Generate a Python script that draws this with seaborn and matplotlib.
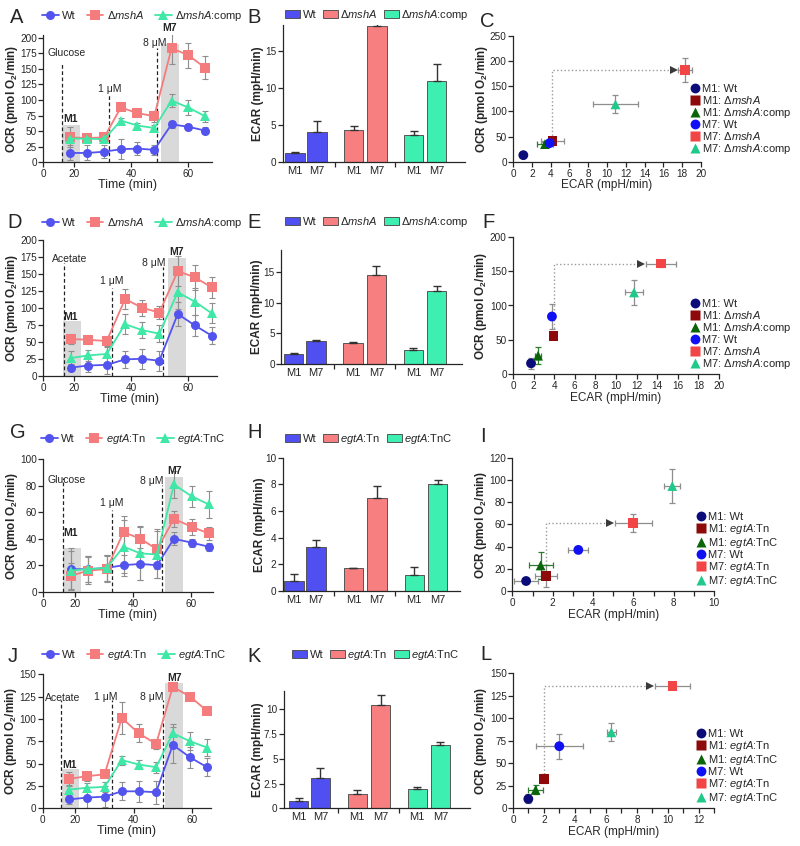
import numpy as np
import pandas as pd
import matplotlib
matplotlib.use('Agg')
import matplotlib.pyplot as plt
from matplotlib.transforms import blended_transform_factory
import seaborn as sns

sns.set_style('ticks')
plt.rcParams['font.family'] = ['Liberation Sans', 'DejaVu Sans']
plt.rcParams['mathtext.fontset'] = 'custom'
plt.rcParams['mathtext.rm'] = 'Liberation Sans'
plt.rcParams['mathtext.it'] = 'Liberation Sans:italic'
plt.rcParams['mathtext.bf'] = 'Liberation Sans:bold'
plt.rcParams['axes.linewidth'] = 0.9
plt.rcParams['xtick.major.width'] = 0.9
plt.rcParams['ytick.major.width'] = 0.9
plt.rcParams['xtick.minor.width'] = 0.9
plt.rcParams['xtick.major.size'] = 3.5
plt.rcParams['ytick.major.size'] = 3.5
plt.rcParams['xtick.minor.size'] = 3.5
plt.rcParams['xtick.major.pad'] = 1.5
plt.rcParams['ytick.major.pad'] = 1

# ---------------- labels ----------------
msh_labels = ['Wt', 'Δ$\\mathit{mshA}$', 'Δ$\\mathit{mshA}$:comp']
egt_labels = ['Wt', '$\\mathit{egtA}$:Tn', '$\\mathit{egtA}$:TnC']
msh_sc_labels = ['M1: Wt', 'M1: Δ$\\mathit{mshA}$', 'M1: Δ$\\mathit{mshA}$:comp',
                 'M7: Wt', 'M7: Δ$\\mathit{mshA}$', 'M7: Δ$\\mathit{mshA}$:comp']
egt_sc_labels = ['M1: Wt', 'M1: $\\mathit{egtA}$:Tn', 'M1: $\\mathit{egtA}$:TnC',
                 'M7: Wt', 'M7: $\\mathit{egtA}$:Tn', 'M7: $\\mathit{egtA}$:TnC']
bar_ticks = ['M1', 'M7', 'M1', 'M7', 'M1', 'M7']

# ---------------- panel A (glucose, mshA) ----------------
time_A = [17.2, 24.6, 30.5, 36.4, 42.2, 48.2, 54.3, 60.2, 66.1]
ocr_A_wt = [15, 15, 17, 21, 22, 20, 61, 57, 51]
err_A_wt = [12, 12, 10, 16, 10, 8, 6, 5, 5]
ocr_A_mut = [40, 39, 40, 88, 79, 74, 183, 172, 152]
err_A_mut = [16, 4, 4, 4, 7, 9, 25, 20, 18]
ocr_A_comp = [38, 38, 37, 67, 59, 55, 99, 88, 74]
err_A_comp = [5, 5, 5, 4, 4, 5, 11, 12, 9]

# ---------------- panel B ----------------
ecar_B = [1.2, 4.0, 4.3, 18.3, 3.6, 10.9]
ecar_B_err = [0.1, 1.5, 0.5, 0.6, 0.5, 2.3]

# ---------------- panel C ----------------
ecar_C = [1.1, 4.2, 3.4, 3.9, 18.3, 10.9]
ocr_C = [13, 41, 35, 37, 183, 114]
ecar_C_err = [0.1, 1.2, 0.9, 0.3, 0.7, 2.4]
ocr_C_err = [3, 5, 5, 5, 24, 18]

# ---------------- panel D (acetate, mshA) ----------------
time_D = [17.8, 24.9, 31.4, 37.9, 44.0, 50.0, 56.5, 62.6, 68.5]
ocr_D_wt = [12, 15, 16, 24, 25, 22, 91, 74, 59]
err_D_wt = [5, 10, 13, 12, 15, 15, 18, 15, 13]
ocr_D_mut = [54, 53, 51, 113, 100, 93, 154, 145, 130]
err_D_mut = [8, 7, 8, 15, 12, 10, 22, 18, 15]
ocr_D_comp = [26, 30, 32, 76, 67, 62, 123, 109, 92]
err_D_comp = [10, 8, 12, 15, 12, 12, 25, 20, 15]

# ---------------- panel E ----------------
ecar_E = [1.7, 3.8, 3.4, 14.5, 2.3, 11.8]
ecar_E_err = [0.05, 0.15, 0.15, 1.4, 0.3, 0.8]

# ---------------- panel F ----------------
ecar_F = [1.75, 3.94, 2.43, 3.78, 14.4, 11.75]
ocr_F = [16, 56, 27, 84, 161, 119]
ecar_F_err = [0.3, 0.2, 0.3, 0.15, 1.45, 0.9]
ocr_F_err = [8, 5, 12, 18, 5, 18]

# ---------------- panel G (glucose, egtA) ----------------
time_G = [17.4, 24.5, 30.9, 36.7, 42.5, 48.3, 54.1, 60.3, 66.1]
ocr_G_wt = [17, 17, 18, 20, 21, 20, 40, 37, 34]
err_G_wt = [16, 10, 10, 8, 12, 10, 5, 3, 3]
ocr_G_tn = [12, 16, 17, 45, 40, 32, 55, 49, 44]
err_G_tn = [10, 10, 10, 12, 10, 15, 6, 6, 5]
ocr_G_tnc = [16, 17, 18, 34, 29, 28, 81, 72, 66]
err_G_tnc = [15, 10, 10, 20, 20, 18, 10, 8, 10]

# ---------------- panel H ----------------
ecar_H = [0.75, 3.3, 1.7, 7.0, 1.2, 8.0]
ecar_H_err = [0.55, 0.5, 0.05, 0.9, 0.6, 0.35]

# ---------------- panel I ----------------
ecar_I = [0.68, 1.67, 1.4, 3.27, 6.0, 7.93]
ocr_I = [9, 13.5, 23, 37, 61.5, 94.5]
ecar_I_err = [0.6, 0.55, 0.6, 0.5, 0.9, 0.4]
ocr_I_err = [2, 10, 12, 3, 8, 15]

# ---------------- panel J (acetate, egtA) ----------------
time_J = [16.6, 24.2, 30.1, 36.0, 41.8, 47.7, 53.4, 59.3, 65.1]
ocr_J_wt = [10, 12, 13, 19, 19, 18, 71, 57, 46]
err_J_wt = [5, 12, 12, 10, 12, 13, 20, 12, 10]
ocr_J_tn = [33, 36, 38, 101, 84, 72, 136, 125, 109]
err_J_tn = [8, 5, 3, 18, 10, 6, 5, 3, 3]
ocr_J_tnc = [21, 23, 24, 54, 49, 46, 84, 75, 68]
err_J_tnc = [5, 5, 6, 5, 5, 6, 10, 10, 10]

# ---------------- panel K ----------------
ecar_K = [0.75, 3.1, 1.45, 10.4, 2.0, 6.35]
ecar_K_err = [0.25, 1.0, 0.35, 1.0, 0.2, 0.3]

# ---------------- panel L ----------------
ecar_L = [0.99, 2.0, 1.46, 2.99, 10.3, 6.35]
ocr_L = [10.4, 33, 20.4, 69, 136, 84.4]
ecar_L_err = [0.2, 0.2, 0.5, 1.5, 1.1, 0.3]
ocr_L_err = [5, 5, 5, 14, 3, 10]

bar_pos = [0, 1, 2.67, 3.73, 5.4, 6.45]
bar_sep = [1.8, 4.55]

# ---------------- styles ----------------
LINE_COLORS = ['#5353EE', '#F47C7C', '#3FE8A6']
LINE_MARKERS = ['o', 's', '^']
BAR_COLORS = ['#4F4FF2', '#F77F7F', '#3DF0B2']
SC_COLORS = ['#0B0B7A', '#8E0A0A', '#0A640A', '#1010F5', '#F24545', '#1FC98A']
SC_MARKERS = ['o', 's', '^', 'o', 's', '^']
ERR_GRAY = '#8E8E8E'
BOX_GRAY = '#D9D9D9'
TICK_FS = 7.2

W, H = 800, 846
fig = plt.figure(figsize=(W / 100, H / 100), dpi=100)


def rect(l, t, r, b):
    return [l / W, 1 - b / H, (r - l) / W, (b - t) / H]


def fwd(x):
    x = np.asarray(x, dtype=float)
    return np.where(x < 20, 20 + (x - 20) * 0.55, x)


def inv(y):
    y = np.asarray(y, dtype=float)
    return np.where(y < 20, 20 + (y - 20) / 0.55, y)


def style_axes(ax, ylab_x):
    sns.despine(ax=ax)
    ax.tick_params(labelsize=TICK_FS)
    ax.yaxis.set_label_coords(ylab_x / W, 0.5,
                              transform=blended_transform_factory(fig.transFigure, ax.transAxes))


def letter(ch, x, y):
    fig.text(x / W, 1 - y / H, ch, fontsize=14.5, ha='left', va='baseline')


def line_panel(r, xmax, t, ys, es, labels, ylim, yticks, sub, sub_x,
               vl, vl_top, vl_txt_y, doses_x, box1, box7, lab_y, leg_xy, ylab_x):
    ax = fig.add_axes(rect(*r))
    ax.set_xscale('function', functions=(fwd, inv))
    for (x0, x1, top), name, ly in ((box1, 'M1', lab_y[0]), (box7, 'M7', lab_y[1])):
        ax.fill_between([x0, x1], 0, top, color=BOX_GRAY, lw=0, zorder=0)
        ax.text((x0 + x1) / 2, ly, name, ha='center', va='center',
                fontsize=7.5, fontweight='bold')
    txts = [sub, '1 μM', '8 μM']
    txt_x = [sub_x] + list(doses_x)
    for x, top, ty, tx, s in zip(vl, vl_top, vl_txt_y, txt_x, txts):
        ax.plot([x, x], [0, top], ls=(0, (3, 2)), color='#222222', lw=0.9, zorder=1)
        ax.text(tx, ty, s, ha='center', va='center', fontsize=7.5)
    for y, e, c, m, lab in zip(ys, es, LINE_COLORS, LINE_MARKERS, labels):
        ax.errorbar(t, y, yerr=e, fmt='none', ecolor=ERR_GRAY, elinewidth=0.8,
                    capsize=2.5, capthick=0.8, zorder=2)
        sns.lineplot(x=t, y=y, color=c, marker=m, markersize=6.5 if m != '^' else 7,
                     markeredgewidth=0, linewidth=1.3, label=lab, ax=ax, zorder=3)
    ax.set_xlim(0, xmax)
    ax.set_ylim(*ylim)
    ax.set_xticks([0, 20, 40, 60])
    ax.set_yticks(yticks)
    ax.set_xlabel('Time (min)', fontsize=9, labelpad=0)
    ax.set_ylabel('OCR (pmol O$_\\mathbf{2}$/min)', fontsize=8.5, fontweight='bold')
    style_axes(ax, ylab_x)
    ax.legend(loc='center left', bbox_to_anchor=(leg_xy[0] / W, 1 - leg_xy[1] / H),
              bbox_transform=fig.transFigure, ncol=3, frameon=False, fontsize=8,
              handlelength=1.5, handletextpad=0.3, columnspacing=1.0,
              borderaxespad=0, borderpad=0)
    return ax


def bar_panel(r, xlim, vals, errs, labels, ylim, yticks, yticklabels, leg_xy, ylab_x):
    ax = fig.add_axes(rect(*r))
    df = pd.DataFrame({'pos': bar_pos, 'ECAR': vals,
                       'strain': [labels[0]] * 2 + [labels[1]] * 2 + [labels[2]] * 2})
    sns.barplot(data=df, x='pos', y='ECAR', hue='strain', palette=BAR_COLORS,
                native_scale=True, dodge=False, width=0.87, errorbar=None, saturation=1,
                edgecolor='#555555', linewidth=0.7, ax=ax)
    ax.errorbar(bar_pos, vals, yerr=[np.zeros(len(vals)), errs], fmt='none',
                ecolor='#333333', elinewidth=1.0, capsize=3, capthick=1.0, zorder=3)
    ax.set_xlim(*xlim)
    ax.set_ylim(*ylim)
    ax.set_yticks(yticks, yticklabels)
    ax.set_xticks(bar_pos, bar_ticks)
    ax.set_xticks(bar_sep, minor=True)
    ax.set_xlabel('')
    ax.set_ylabel('ECAR (mpH/min)', fontsize=8.5, fontweight='bold')
    style_axes(ax, ylab_x)
    ax.tick_params(axis='x', which='major', length=0, labelsize=8, pad=3)
    ax.tick_params(axis='x', which='minor', length=3.5)
    h, l = ax.get_legend_handles_labels()
    ax.legend(h, l, loc='center left', bbox_to_anchor=(leg_xy[0] / W, 1 - leg_xy[1] / H),
              bbox_transform=fig.transFigure, ncol=3, frameon=False, fontsize=8,
              handlelength=1.35, handleheight=0.8, handletextpad=0.25, columnspacing=0.55,
              borderaxespad=0, borderpad=0)
    return ax


def scatter_panel(r, ecar, ocr, xe, ye, labels, xlim, xticks, xminor, ylim, yticks, leg_xy, ylab_x):
    ax = fig.add_axes(rect(*r))
    err_cols = [ERR_GRAY, ERR_GRAY, '#2E7D2E', ERR_GRAY, ERR_GRAY, ERR_GRAY]
    for i in range(len(ecar)):
        ax.errorbar(ecar[i], ocr[i], xerr=xe[i], yerr=ye[i], fmt='none', ecolor=err_cols[i],
                    elinewidth=0.9, capsize=2.5, capthick=0.9, zorder=2, clip_on=False)
    # arrow from M1 mutant to M7 mutant
    x1, y1s, y7 = ecar[1], ocr[1] + ye[1], ocr[4]
    xtip = ecar[4] - xe[4] - (xlim[1] - xlim[0]) * 0.025
    ax.plot([x1, x1, xtip], [y1s, y7, y7], ls=':', color='#9A9A9A', lw=1.0, zorder=1)
    ax.plot([xtip], [y7], marker='>', color='#3A3A3A', ms=6, mew=0, zorder=2)
    df = pd.DataFrame({'ECAR': ecar, 'OCR': ocr, 'group': labels})
    sns.scatterplot(data=df, x='ECAR', y='OCR', hue='group', style='group',
                    palette=SC_COLORS, markers=SC_MARKERS, s=50, edgecolor='none',
                    ax=ax, zorder=3, clip_on=False)
    ax.set_xlim(*xlim)
    ax.set_ylim(*ylim)
    ax.set_xticks(xticks)
    if xminor:
        ax.set_xticks(xminor, minor=True)
    ax.set_yticks(yticks)
    ax.set_xlabel('ECAR (mpH/min)', fontsize=8.5, labelpad=0.5)
    ax.set_ylabel('OCR (pmol O$_\\mathbf{2}$/min)', fontsize=8.5, fontweight='bold')
    style_axes(ax, ylab_x)
    h, l = ax.get_legend_handles_labels()
    ax.legend(h, l, loc='upper left', bbox_to_anchor=(leg_xy[0] / W, 1 - leg_xy[1] / H),
              bbox_transform=fig.transFigure, frameon=False, fontsize=8,
              handletextpad=0.1, labelspacing=0.0, borderaxespad=0, borderpad=0,
              markerscale=1.0, handlelength=1.2)
    return ax


# ---------------- Row 1 ----------------
line_panel((43.3, 35.2, 212.3, 162.3), 68.7, time_A,
           [ocr_A_wt, ocr_A_mut, ocr_A_comp], [err_A_wt, err_A_mut, err_A_comp], msh_labels,
           (0, 204), range(0, 201, 25), 'Glucose', 15.1,
           [11.8, 32.2, 49.1], [160, 109, 183], [175, 117, 192], [32.6, 48.5],
           (12.3, 22.0, 60), (50.6, 56.9, 190), (70, 216), (42, 16), 20.5)
bar_panel((282.7, 25, 465, 161.7), (-0.56, 7.73), ecar_B, ecar_B_err, msh_labels,
          (0, 18.5), [0, 5, 10, 15], ['0', '5', '10', '15'], (285, 15), 264)
scatter_panel((513, 36, 701, 161.7), ecar_C, ocr_C, ecar_C_err, ocr_C_err, msh_sc_labels,
              (0, 20), range(0, 21, 2), None, (0, 250), range(0, 251, 50), (688, 84), 490)

# ---------------- Row 2 ----------------
line_panel((43.3, 240, 216.5, 375.7), 70.2, time_D,
           [ocr_D_wt, ocr_D_mut, ocr_D_comp], [err_D_wt, err_D_mut, err_D_comp], msh_labels,
           (0, 200), range(0, 201, 25), 'Acetate', 16.8,
           [13.3, 33.4, 51.4], [165.6, 128.7, 160.7], [171.5, 139.5, 166.6], [33.2, 47.9],
           (12.9, 22.3, 80), (52.9, 59.3, 173), (87, 182), (42, 223), 20.5)
bar_panel((281, 250, 461.7, 364.3), (-0.58, 7.58), ecar_E, ecar_E_err, msh_labels,
          (0, 18.5), [0, 5, 10, 15], ['0', '5', '10', '15'], (285, 222), 263)
scatter_panel((513, 236.7, 719, 374.3), ecar_F, ocr_F, ecar_F_err, ocr_F_err, msh_sc_labels,
              (0, 20), range(0, 21, 2), None, (0, 200), range(0, 201, 50), (688, 299), 489)

# ---------------- Row 3 ----------------
line_panel((43.3, 459.3, 212.7, 591.7), 67.5, time_G,
           [ocr_G_wt, ocr_G_tn, ocr_G_tnc], [err_G_wt, err_G_tn, err_G_tnc], egt_labels,
           (0, 100), range(0, 101, 20), 'Glucose', 14.6,
           [12.6, 32.7, 50.1], [85.6, 61.7, 80.6], [84, 67, 83.6], [32.7, 46.4],
           (12.6, 22.0, 33), (51.2, 57.3, 86.9), (44, 91), (41, 439), 20.5)
bar_panel((282.7, 457.7, 460, 591), (-0.50, 7.45), ecar_H, ecar_H_err, egt_labels,
          (0, 10), range(0, 11, 2), [str(v) for v in range(0, 11, 2)], (285, 439), 266)
scatter_panel((512.4, 457.7, 714, 591), ecar_I, ocr_I, ecar_I_err, ocr_I_err, egt_sc_labels,
              (0, 10), range(0, 11, 2), range(1, 10, 2), (0, 120), range(0, 121, 20), (694, 512), 489)

# ---------------- Row 4 ----------------
line_panel((42.7, 674.3, 210.9, 808.3), 66.4, time_J,
           [ocr_J_wt, ocr_J_tn, ocr_J_tnc], [err_J_wt, err_J_tn, err_J_tnc], egt_labels,
           (0, 150), range(0, 151, 25), 'Acetate', 12.1,
           [11.5, 32.5, 50.1], [121, 121, 121], [124, 125, 125], [30.6, 46.1],
           (12.1, 21.5, 43.7), (50.8, 56.9, 140), (48, 146), (42, 655), 19.5)
bar_panel((284, 691, 470, 808.3), (-0.66, 7.8), ecar_K, ecar_K_err, egt_labels,
          (0, 11.85), [0, 2.5, 5, 7.5, 10], ['0', '2.5', '5', '7.5', '10'], (292, 655), 264)
scatter_panel((513, 673.3, 714.3, 808.3), ecar_L, ocr_L, ecar_L_err, ocr_L_err, egt_sc_labels,
              (0, 13), range(0, 13, 2), range(1, 14, 2), (0, 150), range(0, 151, 25), (694, 729), 489)

for ch, x, y in [('A', 10, 23), ('B', 247, 23), ('C', 480, 27),
                 ('D', 7, 228), ('E', 247, 228), ('F', 482, 228),
                 ('G', 10, 438), ('H', 247, 438), ('I', 480, 442),
                 ('J', 8, 662), ('K', 247, 662), ('L', 480, 660)]:
    letter(ch, x, y)

fig.savefig('out.png', dpi=100)
